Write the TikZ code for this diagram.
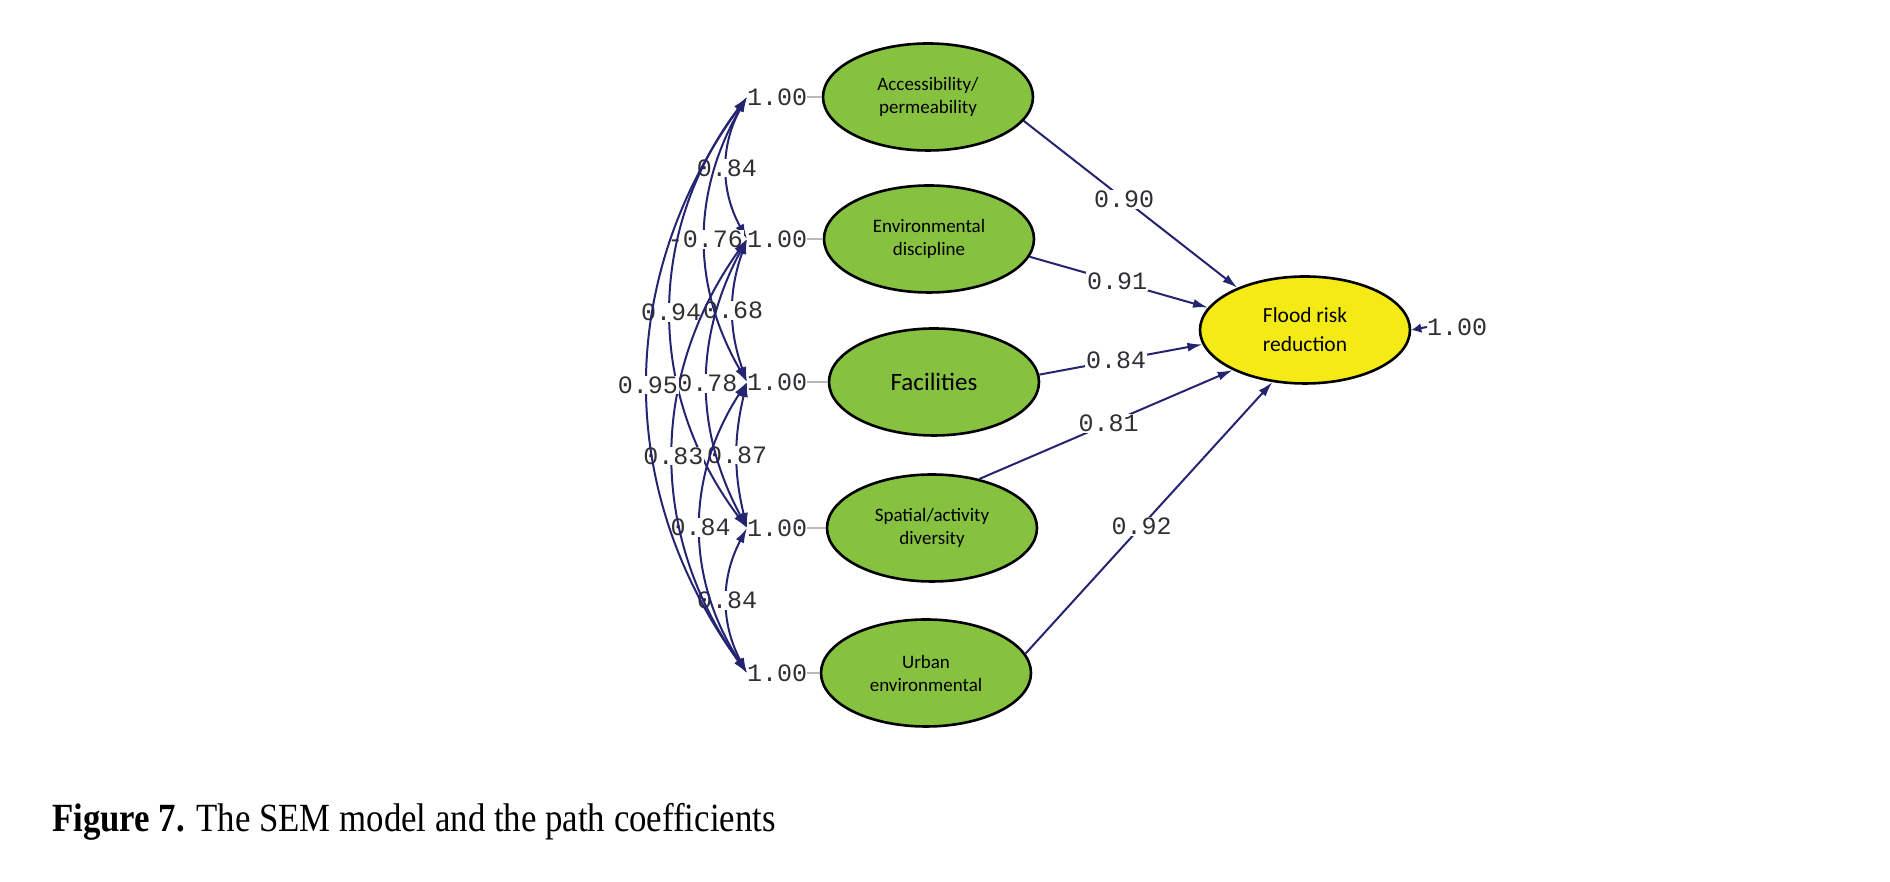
\documentclass[tikz,border=0pt]{standalone}
\usepackage{fontspec}
\setmainfont{Liberation Serif}
\newfontfamily\calibri{Carlito}
\newfontfamily\amosmono{Liberation Mono}
\usepackage{xcolor}
\usepackage{graphicx}
\usetikzlibrary{arrows.meta,shapes.geometric}
\definecolor{amosblue}{RGB}{36,36,112}
\definecolor{latgreen}{RGB}{134,194,64}
\definecolor{outyellow}{RGB}{244,234,22}
\definecolor{numgray}{RGB}{50,46,52}

\begin{document}
\begin{tikzpicture}[x=1pt,y=1pt,>={Latex[length=15pt,width=9pt]},
factor/.style={ellipse,draw=black,line width=2.6pt,fill=latgreen,minimum width=210pt,minimum height=107pt,inner sep=0pt,align=center,font=\calibri\fontsize{19}{23}\selectfont},
outcome/.style={factor,fill=outyellow,font=\calibri\fontsize{21.5}{29}\selectfont},
coef/.style={font=\amosmono\fontsize{25}{25}\selectfont,text=numgray,inner sep=1pt},
lbl/.style={coef,fill=white},
varlbl/.style={coef,anchor=west,inner sep=0pt},
regline/.style={->,draw=amosblue,line width=2pt},
covline/.style={<->,draw=amosblue,line width=2pt}]
\useasboundingbox (0,0) rectangle (1890,882);
\node[factor] (acc) at (928,785) {Accessibility/\\permeability};
\node[factor] (env) at (929,643) {Environmental\\discipline};
\node[factor,font=\calibri\fontsize{25}{30}\selectfont] (fac) at (934,500) {Facilities};
\node[factor] (spa) at (932,354) {Spatial/activity\\diversity};
\node[factor] (urb) at (926,209) {Urban\\environmental};
\node[outcome] (flood) at (1305,552) {Flood risk\\reduction};
\node[varlbl] (va) at (747,785) {1.00};
\node[varlbl] (ve) at (747,643) {1.00};
\node[varlbl] (vf) at (747,500) {1.00};
\node[varlbl] (vs) at (747,354) {1.00};
\node[varlbl] (vu) at (747,209) {1.00};
\node[varlbl] (vfl) at (1427,555) {1.00};
\draw[gray!55,line width=1.8pt] (va) -- (acc);
\draw[gray!55,line width=1.8pt] (ve) -- (env);
\draw[gray!55,line width=1.8pt] (vf) -- (fac);
\draw[gray!55,line width=1.8pt] (vs) -- (spa);
\draw[gray!55,line width=1.8pt] (vu) -- (urb);
\draw[covline] (va.west) to[bend right=29] node[lbl] {0.84} (ve.west);
\draw[covline] (ve.west) to[bend right=19.5] node[lbl] {0.68} (vf.west);
\draw[covline] (vf.west) to[bend right=13.5] node[lbl] {0.87} (vs.west);
\draw[covline] (vs.west) to[bend right=28] node[lbl] {0.84} (vu.west);
\draw[covline] (va.west) to[bend right=30] node[lbl] {-0.76} (vf.west);
\draw[covline] (ve.west) to[bend right=28] node[lbl] {0.78} (vs.west);
\draw[covline] (vf.west) to[bend right=33] node[lbl] {0.84} (vu.west);
\draw[covline] (va.west) to[bend right=37] node[lbl] {0.94} (vs.west);
\draw[covline] (ve.west) to[bend right=35.5] node[lbl] {0.83} (vu.west);
\draw[covline] (va.west) to[bend right=36] node[lbl] {0.95} (vu.west);
\draw[regline] (acc.-14) -- (flood.148) node[lbl,pos=0.47] {0.90};
\draw[regline] (env.-10) -- (flood.167) node[lbl,pos=0.49] {0.91};
\draw[regline] (fac.4) -- (flood.188) node[lbl,pos=0.47] {0.84};
\draw[regline] (spa.46) -- (flood.209) node[lbl,pos=0.51] {0.81};
\draw[regline] (urb.11) -- (flood.238) node[lbl,pos=0.47] {0.92};
\draw[draw=amosblue,line width=2pt,-{Latex[length=10pt,width=10pt]}] (vfl.west) -- (flood.east);
\node[anchor=base west,inner sep=0pt,font=\fontsize{40}{40}\selectfont] (cap) at (52,50) {\scalebox{0.87}[1]{\textbf{Figure 7.} The SEM model and the path coefficients}};
\end{tikzpicture}
\end{document}
